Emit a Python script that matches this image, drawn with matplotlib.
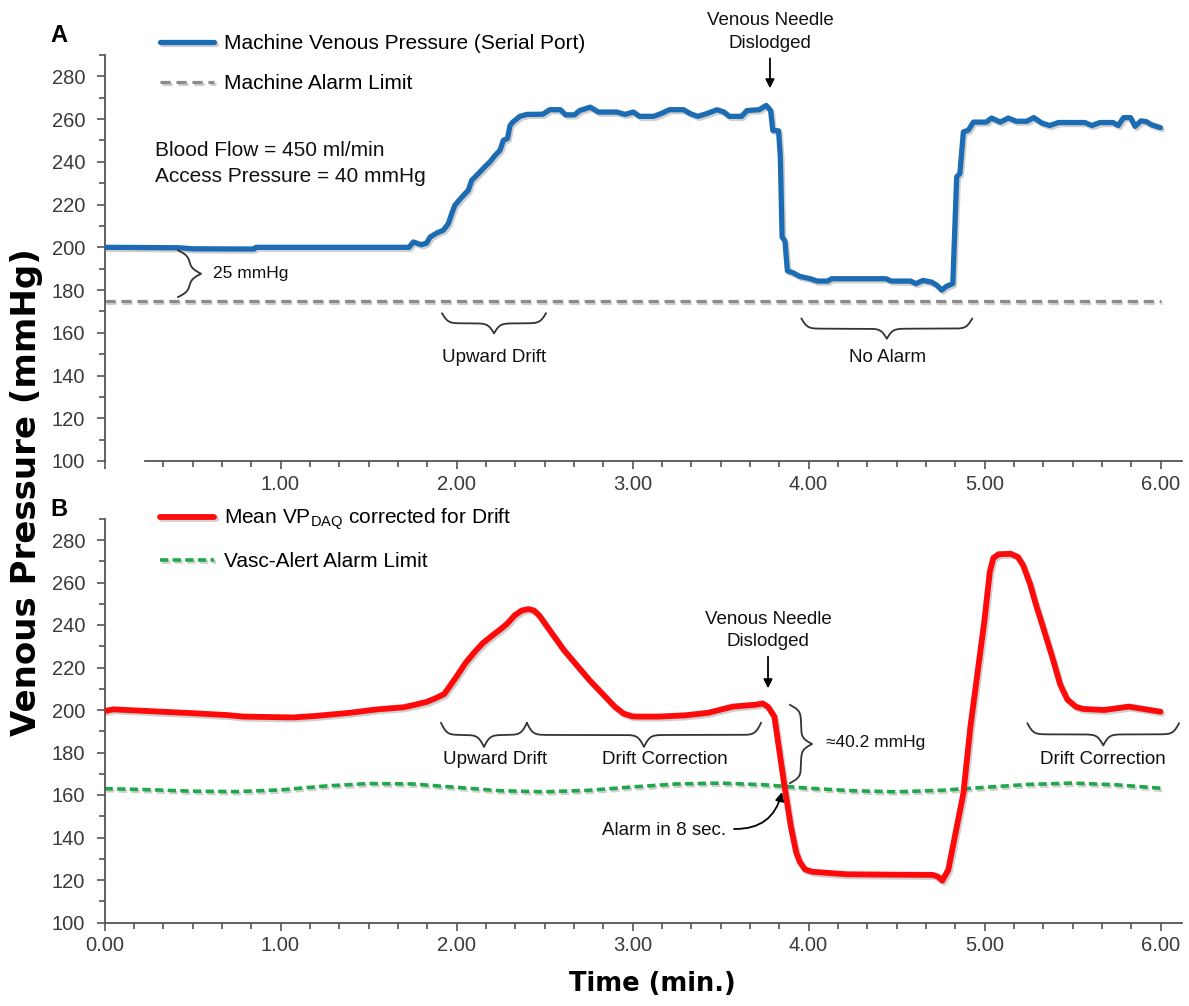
import numpy as np
import matplotlib
matplotlib.use("Agg")
import matplotlib.pyplot as plt
from matplotlib.ticker import MultipleLocator, FixedLocator, FormatStrFormatter
import matplotlib.patheffects as pe

# ---------------- data ----------------
top_time = [0.00, 0.42, 0.50, 0.85, 0.86, 1.73, 1.755, 1.80, 1.83, 1.85, 1.888, 1.925,
            1.953, 1.973, 1.99, 2.03, 2.067, 2.086, 2.124, 2.16, 2.19, 2.219, 2.247,
            2.266, 2.29, 2.304, 2.32, 2.36, 2.40, 2.49, 2.53, 2.59, 2.62, 2.67, 2.70,
            2.76, 2.806, 2.91, 2.957, 3.005, 3.04, 3.12, 3.16, 3.21, 3.29, 3.33, 3.37,
            3.42, 3.48, 3.52, 3.55, 3.62, 3.65, 3.72, 3.76, 3.785, 3.797, 3.83, 3.84,
            3.85, 3.866, 3.88, 3.914, 3.95, 4.01, 4.05, 4.11, 4.13, 4.44, 4.47, 4.58,
            4.61, 4.65, 4.70, 4.73, 4.757, 4.785, 4.82, 4.842, 4.86, 4.88, 4.908,
            4.937, 5.01, 5.04, 5.09, 5.135, 5.18, 5.24, 5.28, 5.325, 5.37, 5.42, 5.57,
            5.61, 5.656, 5.73, 5.76, 5.79, 5.83, 5.855, 5.89, 5.92, 5.95, 6.00]
top_pressure = [200.0, 199.8, 199.3, 199.2, 200.0, 200.0, 202.5, 201.2, 202.0, 204.8, 206.7, 208.0,
                211.0, 215.8, 219.6, 223.5, 226.7, 231.3, 234.5, 237.6, 240.0, 243.0, 245.4,
                250.0, 251.0, 257.0, 258.6, 261.3, 262.2, 262.3, 264.4, 264.4, 262.0, 262.0, 264.0,
                265.6, 263.3, 263.3, 262.2, 263.3, 261.3, 261.3, 262.5, 264.4, 264.4, 262.5, 261.3,
                262.5, 264.4, 263.3, 261.3, 261.3, 264.0, 264.4, 266.4, 264.0, 254.7, 254.5, 242.0,
                204.8, 203.0, 189.0, 188.0, 186.4, 185.3, 184.2, 184.2, 185.3, 185.3, 184.2, 184.2,
                183.0, 184.5, 183.7, 182.2, 180.0, 181.8, 183.0, 233.0, 234.5, 254.0, 254.8,
                258.6, 258.6, 260.5, 258.6, 260.5, 259.0, 259.0, 260.7, 258.2, 257.0, 258.4, 258.4,
                257.0, 258.4, 258.4, 257.0, 260.7, 260.7, 256.6, 259.2, 258.8, 257.3, 256.0]

machine_limit_time = [0.0, 6.0]
machine_alarm_limit = [175.0, 175.0]

bot_time = [0.00, 0.05, 0.30, 0.50, 0.70, 0.79, 1.07, 1.20, 1.395, 1.55, 1.70, 1.76, 1.83, 1.88, 1.93,
            2.00, 2.05, 2.105, 2.15, 2.207, 2.25, 2.29, 2.33, 2.37, 2.41, 2.44, 2.47, 2.53, 2.61,
            2.755, 2.90, 2.95, 3.00, 3.04, 3.15, 3.30, 3.43, 3.57, 3.70, 3.74, 3.77, 3.806, 3.864,
            3.90, 3.93, 3.95, 3.98, 4.02, 4.216, 4.50, 4.706, 4.735, 4.76, 4.794, 4.88, 4.92,
            5.00, 5.03, 5.05, 5.08, 5.15, 5.19, 5.22, 5.26, 5.29, 5.34, 5.39, 5.43, 5.47, 5.52,
            5.56, 5.68, 5.82, 6.00]
bot_pressure = [199.5, 200.3, 199.3, 198.5, 197.6, 196.9, 196.5, 197.2, 198.7, 200.3, 201.3, 202.4, 203.8, 205.5, 207.5,
                215.7, 222.0, 227.5, 231.5, 235.3, 238.0, 240.8, 244.5, 246.8, 247.5, 246.8, 244.5, 237.5, 228.2,
                214.1, 201.5, 198.3, 197.0, 196.9, 196.9, 197.5, 198.7, 201.6, 202.5, 203.1, 201.5, 196.9, 163.9,
                145.0, 133.0, 128.6, 125.0, 123.9, 122.7, 122.5, 122.4, 121.6, 119.7, 124.7, 160.8, 192.2,
                242.4, 265.0, 271.5, 273.3, 273.5, 272.0, 268.0, 259.0, 250.2, 237.0, 223.5, 212.0, 205.0, 201.5,
                200.5, 200.0, 201.6, 199.2]

vasc_time = [0.00, 0.25, 0.50, 0.75, 1.00, 1.25, 1.50, 1.75, 2.00, 2.25, 2.50, 2.75, 3.00,
             3.25, 3.50, 3.75, 4.00, 4.25, 4.50, 4.75, 5.00, 5.25, 5.50, 5.75, 6.00]
vasc_alert_limit = [163.0, 162.5, 161.8, 161.6, 162.4, 164.2, 165.4, 165.2, 163.6, 162.0, 161.5, 162.2, 163.8,
                    165.2, 165.6, 164.8, 163.2, 162.0, 161.5, 162.2, 163.6, 165.0, 165.6, 164.8, 163.2]

x_major = [0, 1, 2, 3, 4, 5, 6]

# ---------------- style ----------------
plt.rcParams['font.family'] = ['Liberation Sans', 'DejaVu Sans']
plt.rcParams['mathtext.default'] = 'regular'

W, H = 1189, 1006
fig = plt.figure(figsize=(W / 100, H / 100), dpi=100)
XMAX = 6.12

axA = fig.add_axes([104.5 / W, 1 - 461 / H, (XMAX * 176) / W, 406 / H])
axB = fig.add_axes([104.5 / W, 1 - 922.5 / H, (XMAX * 176) / W, 403.75 / H])

spine_c = '#555555'
label_c = '#3a3a3a'
for ax in (axA, axB):
    for s in ('top', 'right'):
        ax.spines[s].set_visible(False)
    for s in ('left', 'bottom'):
        ax.spines[s].set_color(spine_c)
        ax.spines[s].set_linewidth(1.3)
    ax.set_xlim(0, XMAX)
    ax.set_ylim(100, 290)
    ax.yaxis.set_major_locator(MultipleLocator(20))
    ax.yaxis.set_minor_locator(MultipleLocator(10))
    ax.xaxis.set_major_locator(FixedLocator(x_major))
    ax.xaxis.set_major_formatter(FormatStrFormatter('%.2f'))
    ax.tick_params(axis='both', which='both', direction='out', color=spine_c, width=1.2)
    ax.tick_params(axis='both', which='major', length=6)
    ax.tick_params(axis='both', which='minor', length=4)
    ax.tick_params(axis='y', which='major', labelsize=14.5, labelcolor=label_c, pad=8)
    ax.tick_params(axis='x', which='major', labelsize=14.5, labelcolor=label_c, pad=4)
    ax.set_autoscale_on(False)

minorB = [i / 6 for i in range(0, 37) if i % 6 != 0]
axB.xaxis.set_minor_locator(FixedLocator(minorB))
axA.xaxis.set_minor_locator(FixedLocator([m for m in minorB if m > 0.25]))
axA.set_xticklabels(['', '1.00', '2.00', '3.00', '4.00', '5.00', '6.00'])
axA.spines['bottom'].set_bounds(0.23, XMAX)

shadow = [pe.SimpleLineShadow(offset=(1.2, -1.5), shadow_color='#777777', alpha=0.35), pe.Normal()]

# ---------------- panel A ----------------
axA.plot(top_time, top_pressure, color='#1c6cb4', lw=3.8, solid_joinstyle='round',
         solid_capstyle='round', path_effects=shadow, label='Machine Venous Pressure (Serial Port)', zorder=3)
axA.plot(machine_limit_time, machine_alarm_limit, color='#8c8c8c', lw=2.3, dashes=(3.2, 1.8),
         path_effects=shadow, label='Machine Alarm Limit', zorder=2)

# ---------------- panel B ----------------
axB.plot(bot_time, bot_pressure, color='#ff0a0a', lw=4.2, solid_joinstyle='round',
         solid_capstyle='round', path_effects=shadow, label='Mean VP$_{DAQ}$ corrected for Drift', zorder=3)
axB.plot(vasc_time, vasc_alert_limit, color='#1fa84a', lw=2.6, dashes=(2.3, 1.2),
         path_effects=shadow, label='Vasc-Alert Alarm Limit', zorder=2)

# legends
for ax, top, sp in ((axA, 34, 1.02), (axB, 507, 0.95)):
    leg = ax.legend(loc='upper left', bbox_to_anchor=(160 / W, 1 - top / H), bbox_transform=fig.transFigure,
                    frameon=False, fontsize=15, handlelength=2.6, handletextpad=0.45,
                    labelspacing=sp, borderpad=0, borderaxespad=0)

# ---------------- braces ----------------
def brace(ax, p0, p1, depth, r=3.0, color='#333333', lw=1.3):
    d0 = ax.transData.transform(p0)
    d1 = ax.transData.transform(p1)
    v = d1 - d0
    L = np.hypot(*v)
    u = v / L
    n = np.array([-u[1], u[0]])
    s = np.linspace(0, L / 2, 300)
    f = 1 / (1 + np.exp(-s / r)) + 1 / (1 + np.exp(-(s - L / 2) / r))
    off = depth * (f - 0.5)
    s_full = np.concatenate([s, L - s[::-1]])
    off_full = np.concatenate([off, off[::-1]])
    pts = d0 + np.outer(s_full, u) + np.outer(off_full, n)
    data = ax.transData.inverted().transform(pts)
    ax.plot(data[:, 0], data[:, 1], color=color, lw=lw, clip_on=False, zorder=4)

# panel A braces
brace(axA, (0.418, 198.6), (0.418, 176.7), 23)          # 25 mmHg (points right)
brace(axA, (1.918, 169.1), (2.508, 169.1), -20)         # upward drift (points down)
brace(axA, (3.96, 166.6), (4.93, 166.6), -20)           # no alarm
# panel B braces
brace(axB, (1.912, 193.9), (2.40, 193.9), -24)
brace(axB, (2.40, 193.9), (3.73, 193.9), -24)
brace(axB, (5.244, 193.7), (6.105, 193.7), -22)
brace(axB, (3.895, 202.4), (3.895, 165.6), 22)          # 40.2 mmHg

# ---------------- texts ----------------
tk = dict(color='#111111', fontsize=13.5)
axA.text(0.287, 245.4, 'Blood Flow = 450 ml/min', fontsize=15, va='center', ha='left', color='#111111')
axA.text(0.287, 233.2, 'Access Pressure = 40 mmHg', fontsize=15, va='center', ha='left', color='#111111')
axA.text(0.615, 187.8, '25 mmHg', fontsize=12.5, va='center', ha='left', color='#111111')
axA.text(2.213, 148.5, 'Upward Drift', ha='center', va='center', **tk)
axA.text(4.45, 148.5, 'No Alarm', ha='center', va='center', **tk)
axA.text(3.781, 306.2, 'Venous Needle', ha='center', va='center', clip_on=False, **tk)
axA.text(3.781, 295.6, 'Dislodged', ha='center', va='center', clip_on=False, **tk)
axA.annotate('', xy=(3.781, 274.4), xytext=(3.781, 288.4),
             arrowprops=dict(arrowstyle='-|>', color='black', lw=1.3, mutation_scale=13, shrinkA=0, shrinkB=0),
             annotation_clip=False)

axB.text(3.770, 242.4, 'Venous Needle', ha='center', va='center', **tk)
axB.text(3.770, 232.1, 'Dislodged', ha='center', va='center', **tk)
axB.annotate('', xy=(3.770, 210.2), xytext=(3.770, 225.1),
             arrowprops=dict(arrowstyle='-|>', color='black', lw=1.3, mutation_scale=13, shrinkA=0, shrinkB=0))
axB.text(2.218, 176.5, 'Upward Drift', ha='center', va='center', **tk)
axB.text(3.185, 176.5, 'Drift Correction', ha='center', va='center', **tk)
axB.text(5.673, 176.5, 'Drift Correction', ha='center', va='center', **tk)
axB.text(4.099, 184.9, '≈40.2 mmHg', ha='left', va='center', fontsize=12.5, color='#111111')
axB.text(3.531, 143.5, 'Alarm in 8 sec.', ha='right', va='center', **tk)
axB.annotate('', xy=(3.849, 161.4), xytext=(3.577, 144.0),
             arrowprops=dict(arrowstyle='-|>', connectionstyle='arc3,rad=0.4', color='black', lw=1.3,
                             mutation_scale=13, shrinkA=0, shrinkB=0))

# panel letters & axis labels
fig.text(50 / W, 1 - 35 / H, 'A', fontsize=17, fontweight='bold', ha='left', va='center')
fig.text(50 / W, 1 - 510 / H, 'B', fontsize=17, fontweight='bold', ha='left', va='center')
fig.text(27 / W, 1 - 492 / H, 'Venous Pressure (mmHg)', rotation=90, ha='center', va='center',
         fontsize=24.5, fontweight='heavy', family='DejaVu Sans')
fig.text(652 / W, 1 - 984 / H, 'Time (min.)', ha='center', va='center',
         fontsize=18.5, fontweight='heavy', family='DejaVu Sans')

fig.savefig('out.png', dpi=100)
